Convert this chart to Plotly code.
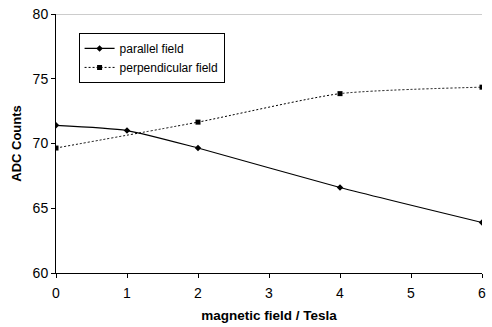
import plotly.graph_objects as go

field_T = [0, 1, 2, 4, 6]
parallel = [71.4, 71.0, 69.65, 66.6, 63.9]
perp_x = [0, 2, 4, 6]
perpendicular = [69.65, 71.65, 73.85, 74.35]

FONT = "Liberation Sans, Arial, sans-serif"

fig = go.Figure()
fig.add_trace(go.Scatter(
    x=field_T, y=parallel, name="parallel field", mode="lines+markers",
    line=dict(color="black", width=1.2, shape="spline", smoothing=0.6),
    marker=dict(symbol="diamond", size=5, color="black"),
))
fig.add_trace(go.Scatter(
    x=perp_x, y=perpendicular, name="perpendicular field", mode="lines+markers",
    line=dict(color="black", width=1, dash="2px,2px", shape="spline", smoothing=0.6),
    marker=dict(symbol="square", size=5, color="black"),
))

fig.update_layout(
    width=492, height=327,
    margin=dict(l=56, r=6, t=13, b=54),
    paper_bgcolor="white", plot_bgcolor="white",
    font=dict(family=FONT, size=14, color="black"),
    showlegend=True,
    legend=dict(x=0.053, y=0.927, xanchor="left", yanchor="top",
                bordercolor="black", borderwidth=1, bgcolor="white",
                font=dict(size=12), tracegroupgap=0, itemwidth=30),
    xaxis=dict(range=[0, 6], tickvals=[0, 1, 2, 3, 4, 5, 6],
               showline=True, linecolor="black", linewidth=1,
               ticks="outside", ticklen=4, tickcolor="black",
               ticklabelstandoff=3,
               showgrid=False, zeroline=False,
               title=dict(text="<b>magnetic field / Tesla</b>", font=dict(size=13.5), standoff=10)),
    yaxis=dict(range=[60, 80], tickvals=[60, 65, 70, 75, 80],
               showline=True, linecolor="black", linewidth=1,
               ticks="outside", ticklen=4, tickcolor="black",
               showgrid=False, zeroline=False,
               title=dict(text="<b>ADC Counts</b>", font=dict(size=13), standoff=8)),
    shapes=[dict(type="line", xref="paper", yref="y", x0=0, x1=1, y0=80, y1=80,
                 line=dict(color="#999999", width=1))],
)

fig.write_html("out.html")
